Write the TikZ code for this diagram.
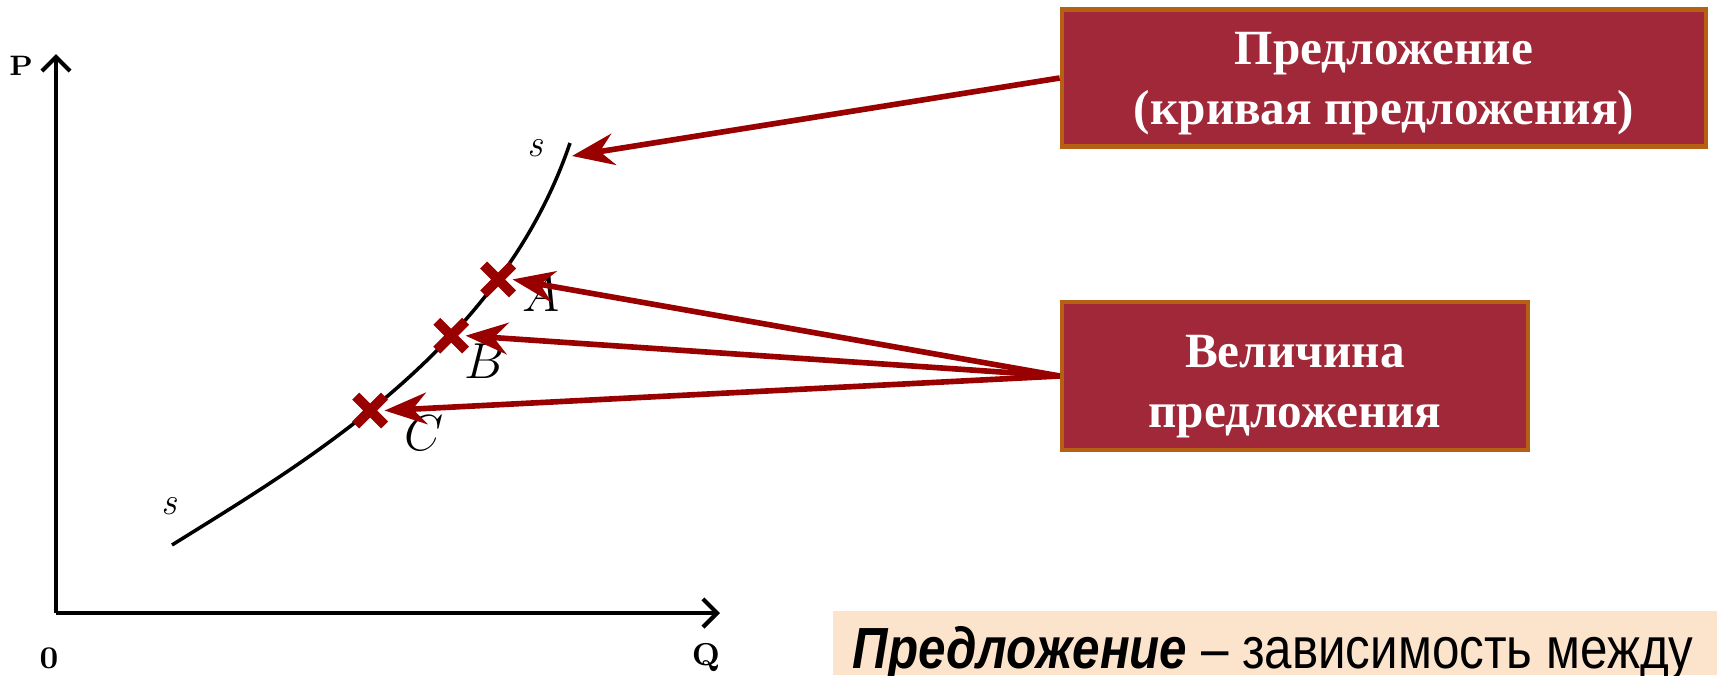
\documentclass[tikz,border=0pt]{standalone}
\usepackage{fontspec}
\newfontfamily\boxfont{Liberation Serif}
\newfontfamily\notefont[FakeStretch=0.85]{Liberation Sans}
\usetikzlibrary{arrows.meta,shapes.misc}
\definecolor{boxred}{RGB}{160,40,56}
\definecolor{boxrim}{RGB}{181,96,18}
\definecolor{arrowred}{RGB}{153,0,0}
\definecolor{notepeach}{RGB}{252,228,204}

\begin{document}
\begin{tikzpicture}[x=0.01cm,y=-0.01cm]
	\tikzset{axis/.style={line width=1.2pt,-{Straight Barb[length=4pt,width=8pt,line width=1.2pt]}},
		infobox/.style={draw=boxrim,line width=1.2pt,fill=boxred,text=white,align=center,
			minimum height=1.34cm,font=\boxfont\bfseries\fontsize{14}{17}\selectfont},
		pointer/.style={draw=arrowred,line width=1.6pt,-{Stealth[length=12pt,width=9pt,inset=4pt]}},
		xmark/.style={cross out,draw=arrowred,line width=2.8pt,minimum size=5.4pt,inner sep=0pt},
		letter/.style={font=\fontsize{15}{15}\selectfont}}

	\useasboundingbox (0,0) rectangle (1717,675);

	% axes
	\coordinate (o) at (56,613);
	\draw[axis] (o) -- (56,54);
	\draw[axis] (o) -- (720,613);
	\node (p) at (21,66) {\bfseries\fontsize{8}{8}\selectfont P};
	\node (zero) at (49,658) {\bfseries\fontsize{9}{9}\selectfont 0};
	\node (q) at (706,658) {\bfseries\fontsize{9}{9}\selectfont Q};

	% supply curve
	\draw[line width=1pt] (172,545) .. controls (300,465) and (500,350) .. (570,143)
		coordinate[pos=0.45] (c) coordinate[pos=0.635] (b) coordinate[pos=0.755] (a)
		coordinate (top);
	\node (s1) at (169,506) {\fontsize{11}{11}\selectfont\itshape s};
	\node (s2) at (535,148) {\fontsize{11}{11}\selectfont\itshape s};
	\node[letter] (la) at (541,294) {$A$};
	\node[letter] (lb) at (485,361) {$B$};
	\node[letter] (lc) at (424,433) {$C$};
	\foreach \pt in {a,b,c}
		\node[xmark] (m\pt) at (\pt) {};

	% boxes
	\node[infobox,minimum width=6.44cm] (supply) at (1384,78) {\rule{0pt}{12.3pt}Предложение\\(кривая предложения)};
	\node[infobox,minimum width=4.66cm] (amount) at (1295,376) {\rule{0pt}{15.4pt}Величина\\предложения};

	\draw[pointer] (supply.west) -- ([shift={(2,13)}]top);
	\draw[pointer] (amount.west) -- (ma.east);
	\draw[pointer] (amount.west) -- (mb.east);
	\draw[pointer] (amount.west) -- (mc.east);

	% definition strip
	\fill[notepeach] (833,611) rectangle (1717,675);
	\node[anchor=base west,inner sep=0pt,font=\notefont\fontsize{16.5}{19}\selectfont] (def) at (852,668)
		{\textbf{\textit{Предложение}} – зависимость между};
\end{tikzpicture}
\end{document}
